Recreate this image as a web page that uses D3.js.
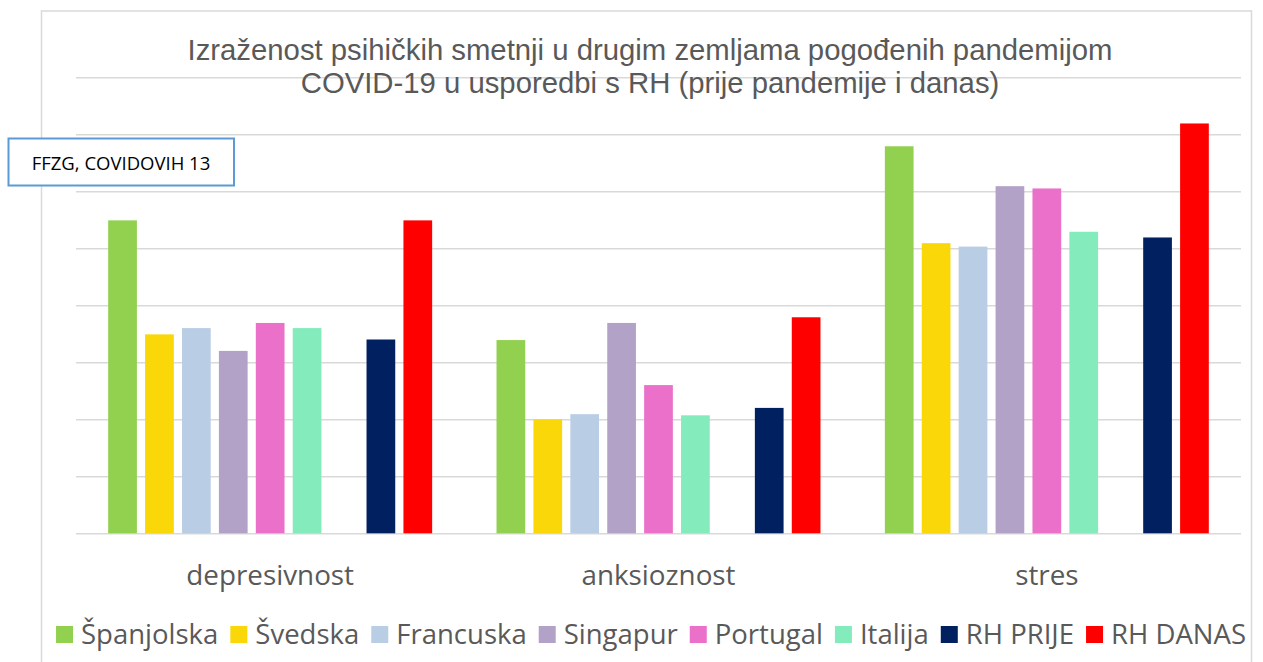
<!DOCTYPE html>
<html>
<head>
<meta charset="utf-8">
<script src="https://cdn.jsdelivr.net/npm/d3@7"></script>
<style>
  body { margin: 0; background: #fff; }
  svg { display: block; }
</style>
</head>
<body>
<div id="chart"></div>
<script>
// data (grid step = 1)
const categories = ["depresivnost", "anksioznost", "stres"];
const series = ["Španjolska", "Švedska", "Francuska", "Singapur", "Portugal", "Italija", "RH PRIJE", "RH DANAS"];
const colors = ["#92d050", "#f9d708", "#b9cde5", "#b3a2c7", "#eb70c9", "#84ebbc", "#002060", "#ff0000"];

const spanjolska = [5.49, 3.39, 6.79];
const svedska    = [3.49, 2.00, 5.09];
const francuska  = [3.60, 2.09, 5.03];
const singapur   = [3.20, 3.69, 6.09];
const portugal   = [3.69, 2.60, 6.05];
const italija    = [3.60, 2.07, 5.29];
const rhPrije    = [3.40, 2.20, 5.19];
const rhDanas    = [5.49, 3.79, 7.19];
const seriesValues = [spanjolska, svedska, francuska, singapur, portugal, italija, rhPrije, rhDanas];

const yTicks = [0, 1, 2, 3, 4, 5, 6, 7, 8];

// the original chart leaves an empty slot between Italija and RH PRIJE
const slots = ["Španjolska", "Švedska", "Francuska", "Singapur", "Portugal", "Italija", "_blank", "RH PRIJE", "RH DANAS"];

const W = 1263, H = 662;
const plot = { left: 76, right: 1241, top: 77.3, bottom: 533.3 };

const svg = d3.select('#chart')
    .append('svg')
    .attr('width', W)
    .attr('height', H);

svg.append('rect')
    .attr('width', W).attr('height', H)
    .attr('fill', '#fff');

// chart frame (bottom edge runs off the picture)
svg.append('rect')
    .attr('x', 41.5).attr('y', 11)
    .attr('width', 1210).attr('height', 720)
    .attr('fill', 'none')
    .attr('stroke', '#d9d9d9')
    .attr('stroke-width', 1.5);

const x0 = d3.scaleBand()
    .domain(categories)
    .range([plot.left, plot.right]);

const x1 = d3.scaleBand()
    .domain(slots)
    .range([0, x0.bandwidth()])
    .paddingInner(0.222)
    .paddingOuter(0.872);

const y = d3.scaleLinear()
    .domain([0, 8])
    .range([plot.bottom, plot.top]);

// gridlines
const grid = svg.append('g')
    .attr('transform', `translate(${plot.left},0)`)
    .call(d3.axisLeft(y)
        .tickValues(yTicks)
        .tickSize(-(plot.right - plot.left))
        .tickFormat(''));
grid.select('.domain').remove();
grid.selectAll('.tick line')
    .attr('stroke', '#d9d9d9')
    .attr('stroke-width', 1.5);

// bars
const rows = [];
series.forEach((s, i) => {
    categories.forEach((c, j) => {
        rows.push({ series: s, category: c, value: seriesValues[i][j], color: colors[i] });
    });
});

svg.append('g')
    .selectAll('rect')
    .data(rows)
    .enter()
    .append('rect')
    .attr('x', d => x0(d.category) + x1(d.series))
    .attr('y', d => y(d.value))
    .attr('width', x1.bandwidth())
    .attr('height', d => y(0) - y(d.value))
    .attr('fill', d => d.color);

// category labels
const xAxis = svg.append('g')
    .attr('transform', `translate(0,${plot.bottom})`)
    .call(d3.axisBottom(x0).tickSize(0).tickPadding(0));
xAxis.select('.domain').remove();
xAxis.selectAll('text')
    .attr('dy', null)
    .attr('y', 52)
    .attr('fill', '#595959')
    .style('font-family', '"Open Sans", sans-serif')
    .style('font-size', '27.8px');

// title
const title = svg.append('text')
    .attr('text-anchor', 'middle')
    .attr('fill', '#595959')
    .style('font-family', '"Liberation Sans", Arial, sans-serif')
    .style('font-size', '29.3px');
title.append('tspan').attr('x', 650).attr('y', 60)
    .text('Izraženost psihičkih smetnji u drugim zemljama pogođenih pandemijom');
title.append('tspan').attr('x', 650).attr('y', 93.3)
    .text('COVID-19 u usporedbi s RH (prije pandemije i danas)');

// note box
svg.append('rect')
    .attr('x', 8.5).attr('y', 138.5)
    .attr('width', 225.5).attr('height', 47)
    .attr('fill', '#fff')
    .attr('stroke', '#5b9bd5')
    .attr('stroke-width', 2);
svg.append('text')
    .attr('x', 31.7).attr('y', 170)
    .attr('fill', '#000')
    .style('font-family', '"Open Sans", sans-serif')
    .style('font-size', '18.5px')
    .text('FFZG, COVIDOVIH 13');

// legend
const legend = svg.append('g');
let lx = 0;
series.forEach((s, i) => {
    const item = legend.append('g').attr('transform', `translate(${lx},0)`);
    item.append('rect')
        .attr('x', 0).attr('y', 626)
        .attr('width', 17).attr('height', 17)
        .attr('fill', colors[i]);
    const t = item.append('text')
        .attr('x', 25).attr('y', 644)
        .attr('fill', '#595959')
        .style('font-family', '"Open Sans", sans-serif')
        .style('font-size', '27.5px')
        .text(s);
    lx += 25 + t.node().getComputedTextLength() + 12;
});
const legendWidth = lx - 12;
legend.attr('transform', `translate(${651 - legendWidth / 2},0)`);
</script>
</body>
</html>
